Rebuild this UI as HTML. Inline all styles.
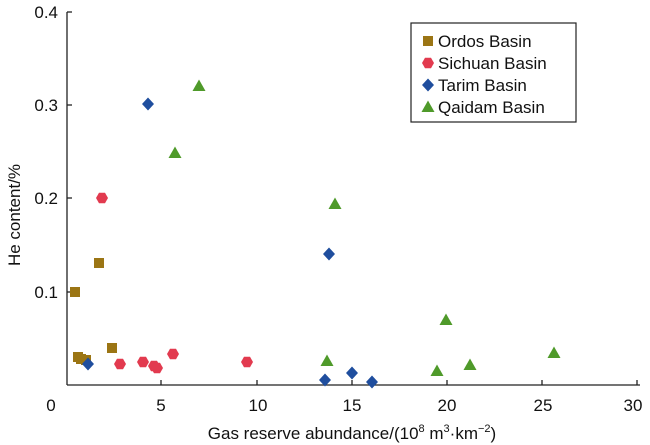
<!DOCTYPE html>
<html><head><meta charset="utf-8"><style>body{margin:0;background:#fff}svg{display:block}</style></head><body>
<svg width="650" height="445" viewBox="0 0 650 445" font-family="Liberation Sans, sans-serif" font-size="17" fill="#111">
<defs>
<rect id="sq" x="-5" y="-5" width="10" height="10" fill="#9b7514"/>
<polygon id="hx" points="-6,0 -3,-5.2 3,-5.2 6,0 3,5.2 -3,5.2" fill="#e23a4f"/>
<polygon id="dm" points="0,-6.5 6,0 0,6.5 -6,0" fill="#1f4e9e"/>
<polygon id="tr" points="0,-6.5 6.5,5 -6.5,5" fill="#4f9a2a"/>
</defs>
<g stroke="#222" stroke-width="1.3" fill="none">
<line x1="67" y1="12" x2="67" y2="385"/>
<line x1="67" y1="385" x2="640" y2="385"/>
<line x1="67" y1="292" x2="72" y2="292"/><line x1="67" y1="198" x2="72" y2="198"/><line x1="67" y1="105" x2="72" y2="105"/><line x1="67" y1="12" x2="72" y2="12"/>
<line x1="161" y1="385" x2="161" y2="380"/><line x1="257" y1="385" x2="257" y2="380"/><line x1="352" y1="385" x2="352" y2="380"/><line x1="447" y1="385" x2="447" y2="380"/><line x1="542" y1="385" x2="542" y2="380"/><line x1="637" y1="385" x2="637" y2="380"/>
</g>
<g text-anchor="end">
<text x="58" y="298">0.1</text><text x="58" y="204">0.2</text><text x="58" y="111">0.3</text><text x="58" y="18">0.4</text>
</g>
<g text-anchor="middle">
<text x="51" y="411">0</text><text x="161" y="411">5</text><text x="258" y="411">10</text><text x="352" y="411">15</text><text x="447" y="411">20</text><text x="543" y="411">25</text><text x="633" y="411">30</text>
<text x="352" y="439">Gas reserve abundance/(10<tspan font-size="11" dy="-7">8</tspan><tspan dy="7"> m</tspan><tspan font-size="11" dy="-7">3</tspan><tspan dy="7">·km</tspan><tspan font-size="11" dy="-7">−2</tspan><tspan dy="7">)</tspan></text>
<text transform="translate(20,215) rotate(-90)">He content/%</text>
</g>
<use href="#sq" x="75" y="292"/><use href="#sq" x="99" y="263"/><use href="#sq" x="78" y="357"/><use href="#sq" x="81" y="359"/><use href="#sq" x="112" y="348"/><use href="#sq" x="86" y="360"/>
<use href="#hx" x="102" y="198"/><use href="#hx" x="120" y="364"/><use href="#hx" x="143" y="362"/><use href="#hx" x="154" y="366"/><use href="#hx" x="157" y="368"/><use href="#hx" x="173" y="354"/><use href="#hx" x="247" y="362"/>
<use href="#dm" x="148" y="104"/><use href="#dm" x="88" y="364"/><use href="#dm" x="329" y="254"/><use href="#dm" x="325" y="380"/><use href="#dm" x="352" y="373"/><use href="#dm" x="372" y="382"/>
<use href="#tr" x="199" y="86"/><use href="#tr" x="175" y="153"/><use href="#tr" x="335" y="204"/><use href="#tr" x="327" y="361"/><use href="#tr" x="446" y="320"/><use href="#tr" x="437" y="371"/><use href="#tr" x="470" y="365"/><use href="#tr" x="554" y="353"/>
<rect x="411" y="23" width="165" height="99" fill="#fff" stroke="#222" stroke-width="1.2"/>
<use href="#sq" x="428" y="41" transform="translate(0,0)"/>
<use href="#hx" x="428" y="63"/><use href="#dm" x="428" y="85"/><use href="#tr" x="428" y="107"/>
<text x="438" y="47">Ordos Basin</text><text x="438" y="69">Sichuan Basin</text><text x="438" y="91">Tarim Basin</text><text x="438" y="113">Qaidam Basin</text>
</svg>
</body></html>
